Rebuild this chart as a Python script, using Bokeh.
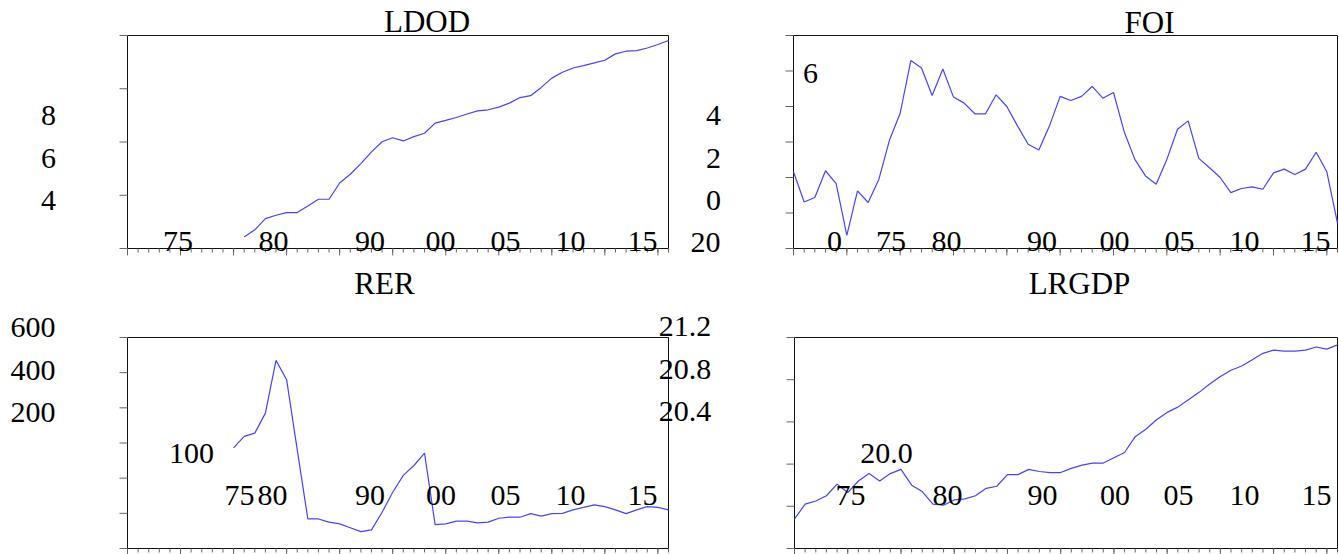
from bokeh.plotting import figure
from bokeh.models import Label, Range1d
from bokeh.embed import file_html
from bokeh.resources import INLINE

# ---------------- data ----------------
years = list(range(1965, 2017))
ldod_years = list(range(1976, 2017))
ldod = [2.43, 2.70, 3.12, 3.25, 3.35, 3.35, 3.60, 3.85, 3.85, 4.46,
        4.79, 5.19, 5.63, 6.01, 6.16, 6.04, 6.20, 6.33, 6.71, 6.81,
        6.92, 7.05, 7.17, 7.21, 7.31, 7.46, 7.67, 7.74, 8.05, 8.40,
        8.62, 8.78, 8.87, 8.97, 9.07, 9.31, 9.41, 9.43, 9.53, 9.66,
        9.81]
foi = [0.32, -1.38, -1.13, 0.38, -0.34, -3.26, -0.75, -1.41, -0.11, 2.11,
       3.62, 6.59, 6.17, 4.62, 6.11, 4.53, 4.19, 3.59, 3.59, 4.66,
       4.00, 2.91, 1.87, 1.55, 2.91, 4.57, 4.34, 4.57, 5.13, 4.47,
       4.79, 2.58, 1.02, 0.09, -0.38, 1.02, 2.72, 3.19, 1.08, 0.55,
       0.00, -0.85, -0.62, -0.53, -0.66, 0.26, 0.47, 0.17, 0.47, 1.42,
       0.32, -2.57]
rer_years = list(range(1975, 2017))
rer = [286, 319, 328, 385, 535, 480, 281, 84, 84, 75,
       70, 59, 48, 53, 103, 160, 208, 236, 271, 68,
       70, 78, 78, 73, 75, 86, 89, 89, 99, 92,
       99, 100, 110, 117, 124, 119, 110, 99, 110, 119,
       117, 110]
lrgdp = [19.48, 19.62, 19.65, 19.70, 19.81, 19.73, 19.84, 19.91, 19.84, 19.91,
         19.95, 19.80, 19.74, 19.62, 19.61, 19.66, 19.67, 19.70, 19.77, 19.79,
         19.90, 19.90, 19.95, 19.93, 19.92, 19.92, 19.96, 19.99, 20.01, 20.01,
         20.06, 20.11, 20.26, 20.33, 20.42, 20.49, 20.54, 20.61, 20.68, 20.76,
         20.83, 20.89, 20.93, 20.99, 21.05, 21.08, 21.07, 21.07, 21.08, 21.11,
         21.09, 21.13]

ldod_ticks = [2, 4, 6, 8, 10]
foi_ticks = [-4, -2, 0, 2, 4, 6, 8]
rer_ticks = [0, 100, 200, 300, 400, 500, 600]
lrgdp_ticks = [19.2, 19.6, 20.0, 20.4, 20.8, 21.2]
major_years = list(range(1965, 2017, 5))

titles = ["LDOD", "FOI", "RER", "LRGDP"]
ldod_y_labels = ["8", "6", "4"]
ldod_x_labels = ["75", "80", "90", "00", "05", "10", "15", "20"]
foi_y_labels = ["6", "4", "2", "0"]
foi_x_labels = ["0", "75", "80", "90", "00", "05", "10", "15"]
rer_y_labels = ["600", "400", "200", "100"]
rer_x_labels = ["75", "80", "90", "00", "05", "10", "15"]
lrgdp_y_labels = ["21.2", "20.8", "20.4", "20.0"]
lrgdp_x_labels = ["75", "80", "90", "00", "05", "10", "15"]

# ---------------- layout / style ----------------
W, H = 1339, 554
FONT = "'Liberation Serif', serif"
LINE = "#4444ff"
TICK = "#666666"
FRAME = "#111111"
XR = (1965, 2016)
TEXT_DY = -1.5      # small vertical nudge of tick-label texts
TITLE_DY = -2.5     # small vertical nudge of titles

# panel boxes: (left, right, top, bottom) in canvas pixels, y downward
BOX = {
    "ldod": (127, 668, 35, 248),
    "foi": (793, 1337, 35, 248),
    "rer": (127, 668, 337, 548),
    "lrgdp": (794, 1337, 337, 548),
}
YR = {"ldod": (2, 10), "foi": (-4, 8), "rer": (0, 600), "lrgdp": (19.2, 21.2)}
YTICKS = {"ldod": ldod_ticks, "foi": foi_ticks, "rer": rer_ticks, "lrgdp": lrgdp_ticks}
YTICK_LEN = 8
XMAJ_LEN = 7
XMIN_LEN = 4

p = figure(width=W, height=H, x_range=Range1d(0, W), y_range=Range1d(0, H),
           x_axis_type=None, y_axis_type=None, title=None,
           toolbar_location=None, tools="", output_backend="svg",
           min_border=0)
p.min_border_left = p.min_border_right = 0
p.min_border_top = p.min_border_bottom = 0
p.grid.visible = False
p.outline_line_color = None
p.background_fill_color = "white"
p.border_fill_color = "white"


def panel_ranges(name):
    L, R, T, B = BOX[name]
    x0, x1 = XR
    y0, y1 = YR[name]
    xs = (x1 - x0) / (R - L)          # data per pixel
    ys = (y1 - y0) / (B - T)
    xa = x0 - L * xs
    xb = xa + W * xs
    ya = y0 - (H - B) * ys
    yb = ya + H * ys
    p.extra_x_ranges[name] = Range1d(xa, xb)
    p.extra_y_ranges[name] = Range1d(ya, yb)
    return xs, ys


def draw_panel(name, xdata, ydata):
    xs, ys = panel_ranges(name)
    x0, x1 = XR
    y0, y1 = YR[name]
    kw = dict(x_range_name=name, y_range_name=name)
    # frame
    p.quad(left=[x0], right=[x1], bottom=[y0], top=[y1], fill_color=None,
           line_color=FRAME, line_width=1, **kw)
    # y ticks (outside, to the left)
    t = YTICKS[name]
    p.segment(x0=[x0] * len(t), y0=t, x1=[x0 - YTICK_LEN * xs] * len(t), y1=t,
              line_color=TICK, line_width=1, **kw)
    # x minor and major ticks (outside, below)
    p.segment(x0=years, y0=[y0] * len(years), x1=years,
              y1=[y0 - XMIN_LEN * ys] * len(years),
              line_color=TICK, line_width=1, **kw)
    p.segment(x0=major_years, y0=[y0] * len(major_years), x1=major_years,
              y1=[y0 - XMAJ_LEN * ys] * len(major_years),
              line_color=TICK, line_width=1, **kw)
    # series
    p.line(xdata, ydata, line_color=LINE, line_width=1.2, **kw)


draw_panel("ldod", ldod_years, ldod)
draw_panel("foi", years, foi)
draw_panel("rer", rer_years, rer)
draw_panel("lrgdp", years, lrgdp)


def add_texts(texts, positions, size, dy=TEXT_DY):
    for txt, (cx, cy) in zip(texts, positions):
        p.add_layout(Label(x=cx, y=cy + dy, x_units="canvas", y_units="canvas",
                           text=txt, text_align="center",
                           text_baseline="middle", text_font=FONT,
                           text_font_size=f"{size}px", text_color="black"))


# titles
add_texts(titles, [(426.5, 23.5), (1149, 24.5), (384, 285), (1079, 285)], 31,
          dy=TITLE_DY)

# LDOD panel texts
add_texts(ldod_y_labels, [(48, 116), (48, 159), (48, 201)], 30)
add_texts(ldod_x_labels,
          [(177.5, 242), (273, 242), (369.5, 242), (440, 242), (505, 242),
           (570, 242), (642, 242), (705, 243)], 30)
# FOI panel texts
add_texts(foi_y_labels, [(810, 74), (713, 116), (713, 159), (713, 201)], 30)
add_texts(foi_x_labels,
          [(834, 242), (890.5, 242), (946, 242), (1041.5, 242), (1114, 242),
           (1179, 242), (1244, 242), (1315, 242)], 30)
# RER panel texts
add_texts(rer_y_labels,
          [(32.5, 328), (32.5, 371), (32.5, 413), (191, 454.5)], 30)
add_texts(rer_x_labels,
          [(239, 496), (272, 496), (369.5, 496), (440.5, 496), (505, 496),
           (570, 496), (642, 496)], 30)
# LRGDP panel texts
add_texts(lrgdp_y_labels,
          [(684.5, 327), (684.5, 370), (684.5, 412.7), (886, 454.5)], 30)
add_texts(lrgdp_x_labels,
          [(850, 496), (947, 496), (1042, 496), (1114.5, 496), (1178, 496),
           (1244, 496), (1316, 496)], 30)

open("out.html", "w").write(file_html(p, INLINE))
